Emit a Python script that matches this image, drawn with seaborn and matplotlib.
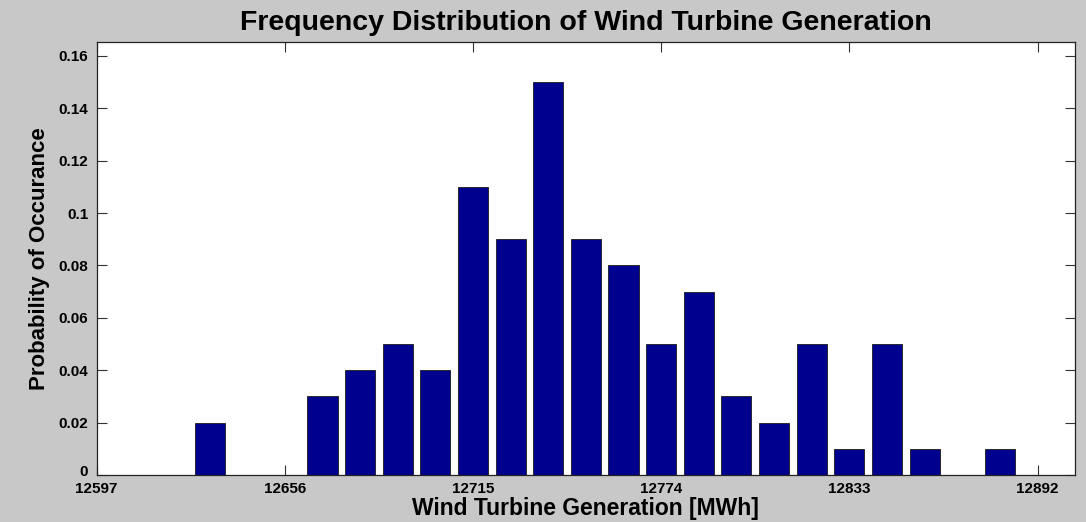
import matplotlib
matplotlib.use("Agg")
import matplotlib.pyplot as plt
import matplotlib.transforms as mtransforms
import seaborn as sns
import pandas as pd

# Histogram bin centres [MWh] and the share of samples in each bin
bin_centers = [12632.4, 12644.2, 12656.0, 12667.8, 12679.6, 12691.4, 12703.2,
               12715.0, 12726.8, 12738.6, 12750.4, 12762.2, 12774.0, 12785.8,
               12797.6, 12809.4, 12821.2, 12833.0, 12844.8, 12856.6, 12868.4,
               12880.2]
probability = [0.02, 0.00, 0.00, 0.03, 0.04, 0.05, 0.04, 0.11, 0.09, 0.15,
               0.09, 0.08, 0.05, 0.07, 0.03, 0.02, 0.05, 0.01, 0.05, 0.01,
               0.00, 0.01]

x_ticks = [12597, 12656, 12715, 12774, 12833, 12892]
y_ticks = [0, 0.02, 0.04, 0.06, 0.08, 0.1, 0.12, 0.14, 0.16]
y_tick_labels = ["0", "0.02", "0.04", "0.06", "0.08", "0.1", "0.12", "0.14", "0.16"]
x_limits = (12597, 12903.8)
y_limits = (0, 0.1653)

df = pd.DataFrame({"generation": bin_centers, "probability": probability})

sns.set_style("white")
plt.rcParams["font.family"] = ["Liberation Sans", "DejaVu Sans"]
plt.rcParams["font.weight"] = "bold"
plt.rcParams["text.color"] = "black"
plt.rcParams["axes.labelcolor"] = "black"
plt.rcParams["xtick.color"] = "black"
plt.rcParams["ytick.color"] = "black"

bg = "#c8c8c8"
fig = plt.figure(figsize=(10.86, 5.22), dpi=100, facecolor=bg)
ax = fig.add_axes([0.089, 0.090, 0.901, 0.8295])
ax.set_facecolor("white")

sns.barplot(data=df, x="generation", y="probability", native_scale=True,
            width=0.8, color="#00008f", saturation=1, edgecolor="#1a1a1a",
            linewidth=0.6, errorbar=None, ax=ax)

ax.set_xlim(*x_limits)
ax.set_ylim(*y_limits)
ax.set_xticks(x_ticks)
ax.set_xticklabels([str(t) for t in x_ticks], fontsize=11, fontweight="bold")
ax.set_yticks(y_ticks)
ax.set_yticklabels(y_tick_labels, fontsize=11, fontweight="bold")

ax.tick_params(axis="both", which="major", direction="in", length=7,
               width=0.8, color="#333333", labelcolor="black", top=True,
               right=True, bottom=True, left=True)
ax.tick_params(axis="x", pad=5)
ax.tick_params(axis="y", pad=6)

# lift the "0" label slightly so it clears the first x label in the corner
zero_label = ax.get_yticklabels()[0]
zero_label.set_transform(zero_label.get_transform() +
                         mtransforms.ScaledTranslation(0, 3 / 72, fig.dpi_scale_trans))

for side in ["left", "right", "top", "bottom"]:
    ax.spines[side].set_visible(True)
    ax.spines[side].set_color("#222222")
    ax.spines[side].set_linewidth(0.9)

ax.set_title("Frequency Distribution of Wind Turbine Generation",
             fontsize=20.5, fontweight="bold", pad=9, color="black")
ax.set_xlabel("Wind Turbine Generation [MWh]", fontsize=16.5,
              fontweight="bold", labelpad=1)
ax.set_ylabel("Probability of Occurance", fontsize=16,
              fontweight="bold", labelpad=6)

fig.savefig("out.png", dpi=100, facecolor=bg)
